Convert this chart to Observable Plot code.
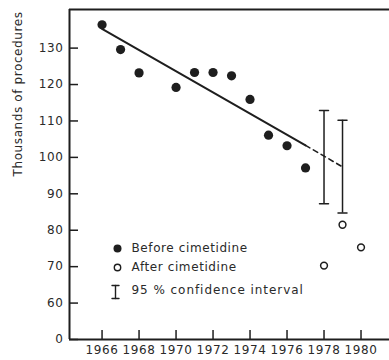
<!DOCTYPE html>
<html><head><meta charset="utf-8">
<script src="https://cdn.jsdelivr.net/npm/d3@7"></script>
<script src="https://cdn.jsdelivr.net/npm/@observablehq/plot@0.6"></script>
<style>body{margin:0;background:#fff}</style>
</head><body><div id="chart"></div>
<script>
const beforeYears = [1966,1967,1968,1970,1971,1972,1973,1974,1975,1976,1977];
const beforeValues = [136.4,129.6,123.2,119.2,123.3,123.3,122.4,115.9,106.1,103.2,97.1];
const afterYears = [1978,1979,1980];
const afterValues = [70.3,81.5,75.3];
const ciYears = [1978,1979];
const ciLow = [87.3,84.7];
const ciHigh = [112.9,110.2];
const trendYears = [1966,1977];
const trendValues = [135.3,103.3];
const projYears = [1977,1979];
const projValues = [103.3,97.4];
const xTicks = [1966,1968,1970,1972,1974,1976,1978,1980];
const yTicks = [50,60,70,80,90,100,110,120,130];
const yTickLabels = ["0","60","70","80","90","100","110","120","130"];
const yTitle = "Thousands of procedures";
const legendLabels = ["Before cimetidine","After cimetidine","95 % confidence interval"];

const before = beforeYears.map((x,i)=>({x, y: beforeValues[i]}));
const after = afterYears.map((x,i)=>({x, y: afterValues[i]}));
const ci = ciYears.map((x,i)=>({x, lo: ciLow[i], hi: ciHigh[i]}));
const trend = trendYears.map((x,i)=>({x, y: trendValues[i]}));
const proj = projYears.map((x,i)=>({x, y: projValues[i]}));

const xDomain = [1964.24, 1981.54];
const yDomain = [50, 140.6];
const ink = "#1e1e1e";
const stem = {draw(ctx, l) { ctx.moveTo(0, 0); ctx.lineTo(0, -l); }};

const chart = Plot.plot({
  width: 389, height: 360,
  marginLeft: 69, marginRight: 0, marginTop: 9, marginBottom: 21,
  style: {fontFamily: "DejaVu Sans", fontSize: "12px", color: "#2a2a2a", background: "#fff"},
  x: {domain: xDomain},
  y: {domain: yDomain},
  marks: [
    Plot.ruleX([xDomain[0]], {stroke: ink, strokeWidth: 2}),
    Plot.ruleY([yDomain[0]], {stroke: ink, strokeWidth: 2}),
    Plot.ruleY([yDomain[1]], {stroke: ink, strokeWidth: 2}),
    Plot.axisX({ticks: xTicks, tickSize: 0, tickPadding: 6, tickFormat: d => String(d), label: null}),
    Plot.axisX({ticks: xTicks, tickSize: 9, text: null, dy: -9, stroke: ink, strokeWidth: 1.5, label: null}),
    Plot.axisY({ticks: yTicks, tickSize: 0, tickPadding: 6, tickFormat: d => yTickLabels[yTicks.indexOf(d)], label: null}),
    Plot.axisY({ticks: yTicks, tickSize: 9, text: null, dx: 9, stroke: ink, strokeWidth: 1.5, label: null}),
    Plot.text([yTitle], {frameAnchor: "left", dx: -51, dy: 2, rotate: -90, text: d => d, fill: "#2a2a2a"}),
    Plot.line(trend, {x: "x", y: "y", stroke: ink, strokeWidth: 2}),
    Plot.line(proj, {x: "x", y: "y", stroke: ink, strokeWidth: 1.6, strokeDasharray: "5,4"}),
    Plot.ruleX(ci, {x: "x", y1: "lo", y2: "hi", stroke: ink, strokeWidth: 1.5}),
    Plot.vector(ci, {x: "x", y: "hi", rotate: 90, length: 9, anchor: "middle", shape: stem, stroke: ink, strokeWidth: 1.5}),
    Plot.vector(ci, {x: "x", y: "lo", rotate: 90, length: 9, anchor: "middle", shape: stem, stroke: ink, strokeWidth: 1.5}),
    Plot.dot(before, {x: "x", y: "y", r: 4.6, fill: ink, stroke: "none"}),
    Plot.dot(after, {x: "x", y: "y", r: 3.4, fill: "#fff", stroke: ink, strokeWidth: 1.5}),
    // legend
    Plot.dot([0], {frameAnchor: "top-left", dx: 48, dy: 239, r: 4, fill: ink, stroke: "none"}),
    Plot.dot([0], {frameAnchor: "top-left", dx: 48, dy: 258, r: 3.2, fill: "#fff", stroke: ink, strokeWidth: 1.4}),
    Plot.vector([0], {frameAnchor: "top-left", dx: 46, dy: 289, length: 13, anchor: "start", shape: stem, stroke: ink, strokeWidth: 1.4}),
    Plot.vector([0], {frameAnchor: "top-left", dx: 46, dy: 276, length: 7, rotate: 90, anchor: "middle", shape: stem, stroke: ink, strokeWidth: 1.4}),
    Plot.vector([0], {frameAnchor: "top-left", dx: 46, dy: 289, length: 7, rotate: 90, anchor: "middle", shape: stem, stroke: ink, strokeWidth: 1.4}),
    Plot.text([legendLabels[0]], {frameAnchor: "top-left", dx: 62, dy: 239, text: d => d, textAnchor: "start", lineAnchor: "middle", fill: "#2a2a2a"}),
    Plot.text([legendLabels[1]], {frameAnchor: "top-left", dx: 62, dy: 258, text: d => d, textAnchor: "start", lineAnchor: "middle", fill: "#2a2a2a"}),
    Plot.text([legendLabels[2]], {frameAnchor: "top-left", dx: 62, dy: 281, text: d => d, textAnchor: "start", lineAnchor: "middle", fill: "#2a2a2a", className: "wide"})
  ]
});
chart.querySelectorAll("text").forEach(t => t.style.letterSpacing = "0.6px");
chart.querySelectorAll(".wide text").forEach(t => t.style.letterSpacing = "0.95px");
document.getElementById("chart").appendChild(chart);
</script>
</body></html>
